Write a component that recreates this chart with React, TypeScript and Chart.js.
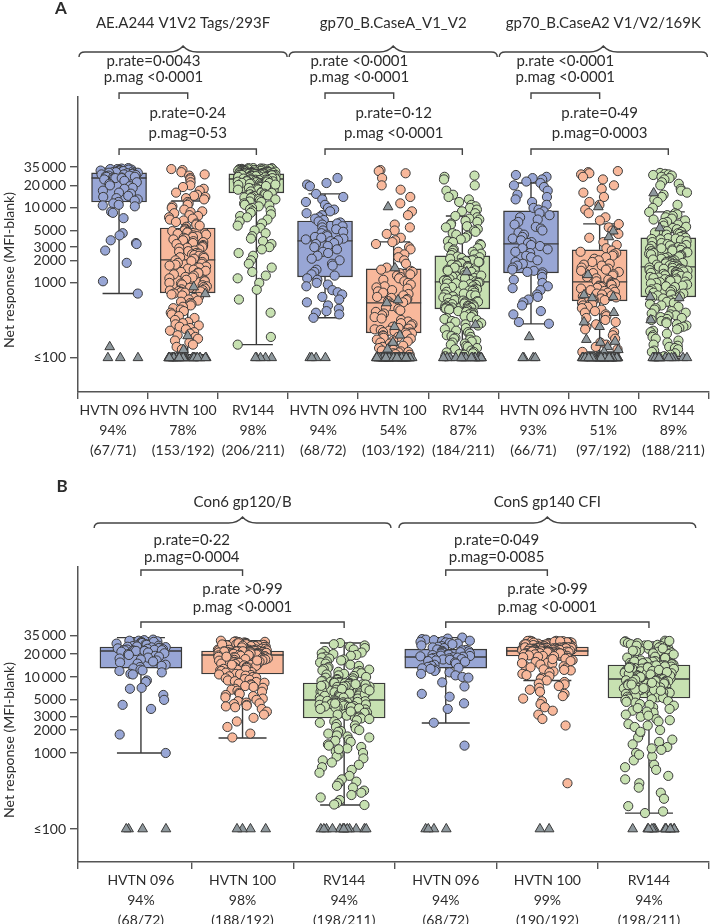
import React, { useEffect, useRef } from 'react';
import { Chart, registerables } from 'chart.js';

Chart.register(...registerables);

const FONT = 'Lato, "Open Sans", "DejaVu Sans", sans-serif';
const TXT = '#2c2c2c';
const DARK = '#3a3a3a';
const AXIS = '#555555';
const FILLS = ['#98a6d5', '#f8b89b', '#c7e1b1'];
const GREY = '#8e989d';

// ---------- y axis ticks ----------
const yTickVals = [100, 1000, 2000, 3000, 5000, 10000, 20000, 35000];
const yTickText = ['≤100', '1000', '2000', '3000', '5000', '10\u2009000', '20\u2009000', '35\u2009000'];

// ---------- Panel A ----------
const antigensA = ['AE.A244 V1V2 Tags/293F', 'gp70_B.CaseA_V1_V2', 'gp70_B.CaseA2 V1/V2/169K'];
const trialsA = ['HVTN 096', 'HVTN 100', 'RV144', 'HVTN 096', 'HVTN 100', 'RV144', 'HVTN 096', 'HVTN 100', 'RV144'];
const ratesA = ['94%', '78%', '98%', '94%', '54%', '87%', '93%', '51%', '89%'];
const countsA = ['(67/71)', '(153/192)', '(206/211)', '(68/72)', '(103/192)', '(184/211)', '(66/71)', '(97/192)', '(188/211)'];
const q1A = [12000, 735, 15850, 1200, 215, 450, 1360, 575, 650];
const medA = [25100, 2030, 24300, 3630, 541, 1030, 3310, 1030, 1635];
const q3A = [29300, 5400, 28400, 6700, 1540, 2290, 9120, 2760, 3980];
const loA = [720, 110, 150, 342, 110, 105, 284, 120, 105];
const hiA = [34000, 12400, 34000, 15400, 3520, 7800, 21500, 6120, 8850];
const pNearA = [['p.rate=0·0043', 'p.mag <0·0001'], ['p.rate <0·0001', 'p.mag <0·0001'], ['p.rate <0·0001', 'p.mag <0·0001']];
const pFarA = [['p.rate=0·24', 'p.mag=0·53'], ['p.rate=0·12', 'p.mag <0·0001'], ['p.rate=0·49', 'p.mag=0·0003']];

const A_AE_096 = [34000,33500,33000,33000,32500,32500,32000,32000,31500,31500,31000,31000,30500,30500,30000,30000,29500,29500,29000,29000,28500,28000,28000,27500,27000,27000,26500,26000,26000,25500,25500,25000,25000,25000,24000,23000,22000,21000,20000,19500,18500,18000,17000,16000,15500,14500,14000,13500,13000,12500,12000,11500,11000,10800,10500,8900,8600,7300,4600,4300,3700,3400,3300,2700,1850,1050,720];
const A_AE_096_neg = [140,100,100,100];
const A_AE_100 = [33000,32000,30000,28000,27000,25000,24000,22000,20000,19000,18000,17000,16000,15000,14500,14000,13500,13000,
12000,11500,11000,10500,10000,9500,9000,8800,8500,8000,7800,7500,7200,7000,6800,6500,6200,6000,5800,5600,
5300,5200,5000,4900,4800,4700,4600,4500,4400,4300,4200,4100,4000,3900,3800,3700,3600,3500,3400,3300,3200,3100,3000,2950,2900,2800,2700,2650,2600,2500,2450,2400,2350,2300,2250,2200,2150,2100,
2000,1950,1900,1850,1800,1750,1700,1650,1600,1550,1500,1450,1400,1380,1350,1300,1250,1200,1180,1150,1100,1080,1050,1000,980,950,930,900,880,860,840,820,800,790,780,770,760,750,740,
720,700,680,650,630,600,580,560,540,520,500,480,460,440,420,400,380,360,340,320,300,290,280,270,260,250,240,230,220,210,200,190,180,170,160,150,140,130];
const A_AE_100_neg = [880,713,196,128,100,100,100,100,100,100,100,100,100,100,100,100,100,100,100,100,100,100,100,100,100,100,100,100,100,100,100,100,100,100,100,100,100,100,100];
const A_AE_RV = [34000,34000,33800,33600,33500,33400,33200,33000,33000,32800,32600,32500,32400,32200,32000,32000,31800,31600,31500,31400,31200,31000,31000,30800,30600,30500,30400,30200,30000,30000,29900,29800,29700,29600,29500,29400,29300,29200,29100,29000,29000,28900,28900,28800,28800,28700,28700,28600,28600,28500,28500,28400,
28300,28200,28000,27900,27800,27600,27500,27400,27300,27100,27000,26900,26800,26600,26500,26400,26300,26100,26000,25900,25800,25700,25500,25400,25300,25200,25100,25000,24900,24800,24700,24600,24500,24400,24300,28100,27700,27200,26700,26200,25600,25000,24500,24400,24350,27450,26550,25950,25450,24650,24950,
24200,24000,23800,23500,23400,23200,23000,22700,22600,22400,22100,22000,21800,21600,21400,21100,21000,20800,20600,20300,20200,20000,19800,19500,19400,19200,19000,18700,18600,18400,18100,18000,17800,17600,17300,17200,17000,16800,16500,16400,16200,16000,15900,23600,22500,21500,20500,19600,18500,17500,16600,
15500,15200,15000,14700,14400,14000,13800,13500,13200,13000,12600,12200,12000,11500,11000,10800,10500,10000,9600,9200,9000,8600,8200,7800,7500,7000,6600,6200,5800,5400,5000,4600,4200,3900,3600,3300,3000,2800,2500,2300,2000,1800,1600,1400,1250,1150,1000,810,600,400,190,150];
const A_AE_RV_neg = [100,100,100,100,100];
const A_CA_096 = [25100,21500,20500,19500,15400,14000,13000,12000,11000,10000,9500,9000,8500,8000,7500,7200,6900,
6600,6400,6200,6000,5700,5500,5200,5000,4800,4600,4400,4200,4100,4000,3900,3800,3700,
3600,3400,3300,3100,3000,2800,2600,2500,2300,2100,2000,1800,1700,1500,1400,1300,1250,
1150,1100,1000,950,900,800,750,700,650,600,550,500,450,420,400,380,342];
const A_CA_096_neg = [100,100,100,100];
const A_CA_100 = [32000,31000,29000,25000,20000,17500,14000,11500,9000,8000,6000,5500,5000,4500,4000,3700,
3500,3300,3000,2800,2600,2400,2200,2000,1800,1600,
1500,1450,1400,1350,1300,1250,1200,1150,1100,1050,1000,950,900,870,840,800,770,740,710,680,650,630,610,590,570,550,
530,510,490,470,450,430,410,390,370,350,335,320,305,290,280,270,260,250,245,240,235,230,225,220,218,216,
212,205,200,195,190,185,180,175,170,165,160,155,150,145,140,135,130,128,125,122,120,118,115,112,110];
const A_CA_100_neg = [10300,1580,590,540,260,200,160,130,
100,100,100,100,100,100,100,100,100,100,100,100,100,100,100,100,100,100,100,100,100,100,100,100,100,100,100,100,100,100,100,100,100,
100,100,100,100,100,100,100,100,100,100,100,100,100,100,100,100,100,100,100,100,100,100,100,100,100,100,100,100,100,100,100,100,100,100,100,100,100,100,100,100];
const A_CA_RV = [27000,26000,24000,20000,17000,15000,14000,13000,12000,11000,10500,10000,9500,9000,8500,
7800,7500,7200,7000,6700,6500,6200,6000,5700,5500,5200,5000,4800,4600,4400,4200,4000,3800,3600,3500,3300,3200,3000,2900,2800,2700,2600,2500,2450,2400,2350,
2250,2200,2150,2100,2050,2000,1950,1900,1850,1800,1750,1700,1680,1650,1600,1570,1540,1500,1470,1440,1400,1380,1350,1320,1300,1270,1250,1220,1200,1180,1160,1140,1120,1100,1090,1080,1070,1060,1050,1040,1035,1900,1600,1450,1250,1150,
1020,1000,990,980,960,940,920,900,880,860,840,820,800,790,780,760,740,720,700,690,680,660,640,620,600,590,580,570,560,550,540,530,520,510,500,495,490,485,480,475,470,465,460,455,452,450,
440,430,420,410,400,390,380,370,360,350,340,330,320,310,300,290,280,270,260,250,240,230,220,210,200,195,190,185,180,175,170,165,160,155,150,145,140,135,130,125,120,118,115,112,110,105];
const A_CA_RV_neg = [1400,275,100,100,100,100,100,100,100,100,100,100,100,100,100,100,100,100,100,100,100,100,100,100,100,100,100];
const A_CA2_096 = [27500,26000,25000,24000,22500,21500,20000,19000,17000,15000,14000,13000,12000,11000,10000,9500,
9000,8500,8000,7500,7000,6500,6000,5600,5300,5000,4700,4400,4100,3900,3700,3500,3400,
3200,3100,2900,2800,2600,2500,2300,2200,2000,1900,1800,1700,1600,1500,1450,1400,1380,
1300,1200,1100,1000,900,850,800,700,650,600,550,500,420,380,300,285];
const A_CA2_096_neg = [190,100,100,100,100];
const A_CA2_100 = [31000,30000,29000,28000,26000,24000,20000,18000,16000,14000,12000,11000,9500,8500,7500,6800,6100,5500,5000,4500,4000,3500,3200,2900,
2700,2600,2500,2400,2300,2200,2100,2000,1900,1800,1750,1700,1600,1550,1500,1450,1400,1350,1300,1250,1200,1150,1100,1050,
1020,1000,980,960,940,920,900,880,860,840,820,800,780,760,740,720,700,680,660,640,620,600,590,580,
560,540,520,500,480,460,440,420,400,380,360,340,320,300,280,260,240,220,200,180,160,150,140,130,120];
const A_CA2_100_neg = [10300,4900,4100,1280,690,650,630,400,300,260,175,165,160,140,128,120,
100,100,100,100,100,100,100,100,100,100,100,100,100,100,100,100,100,100,100,100,100,100,100,100,100,100,100,100,100,100,
100,100,100,100,100,100,100,100,100,100,100,100,100,100,100,100,100,100,100,100,100,100,100,100,100,100,100,100,100,100,100,100,100];
const A_CA2_RV = [29300,28500,28000,27500,27000,26000,25000,24000,22000,21000,20000,18000,17000,16000,15000,14000,13000,12000,11000,10000,
8800,8500,8200,8000,7800,7500,7200,7000,6800,6500,6300,6000,5800,5600,5400,5200,5000,4900,4800,4700,4600,4500,4400,4300,4200,4100,4000,
3950,3900,3850,3800,3700,3600,3500,3400,3300,3200,3150,3100,3000,2950,2900,2850,2800,2750,2700,2650,2600,2550,2500,2450,2400,2350,2300,2250,2200,2150,2100,2050,2000,1980,1950,1920,1900,1870,1850,1820,1800,1770,1750,1720,1700,1680,1650,
1620,1600,1580,1560,1540,1520,1500,1480,1460,1440,1420,1400,1380,1360,1340,1320,1300,1280,1260,1240,1220,1200,1180,1160,1140,1120,1100,1080,1060,1040,1020,1000,980,950,920,900,880,850,820,800,780,760,740,720,700,680,660,
640,620,600,580,560,540,520,500,480,460,440,420,400,390,380,370,360,350,340,330,320,310,300,290,280,270,260,250,240,230,220,210,200,190,180,170,160,150,145,140,135,130,125,120,115,110,105];
const A_CA2_RV_neg = [15800,5400,650,630,320,100,100,100,100,100,100,100,100,100,100,100,100,100,100,100,100,100,100];

// ---------- Panel B ----------
const antigensB = ['Con6 gp120/B', 'ConS gp140 CFI'];
const trialsB = ['HVTN 096', 'HVTN 100', 'RV144', 'HVTN 096', 'HVTN 100', 'RV144'];
const ratesB = ['94%', '98%', '94%', '94%', '99%', '94%'];
const countsB = ['(68/72)', '(188/192)', '(198/211)', '(68/72)', '(190/192)', '(198/211)'];
const q1B = [13100, 10950, 2890, 13100, 18900, 5300];
const medB = [22000, 19500, 4980, 18300, 22000, 9420];
const q3B = [24800, 22000, 8340, 23300, 24800, 14400];
const loB = [1000, 1575, 207, 2480, 9000, 162];
const hiB = [33000, 30000, 28000, 33000, 30000, 29000];
const pNearB = [['p.rate=0·22', 'p.mag=0·0004'], ['p.rate=0·049', 'p.mag=0·0085']];
const pFarB = [['p.rate >0·99', 'p.mag <0·0001'], ['p.rate >0·99', 'p.mag <0·0001']];

const B_C6_096 = [31000,30500,30000,30000,29500,29000,28800,28500,28000,27500,27000,26500,26000,25800,25500,25200,25000,
24700,24500,24300,24000,23800,23500,23200,23000,22800,22600,22500,22400,22300,22200,22100,22050,22000,
21500,21000,20500,20000,19500,19000,18500,18000,17500,17000,16500,16000,15500,15000,14500,14000,13500,
13000,12500,12000,11500,11000,10800,9000,8600,7200,7000,5800,5000,4300,3800,1750,1000,12200];
const B_C6_096_neg = [100,100,100,100];
const B_C6_100 = [30000,29500,29000,29000,28500,28000,28000,27500,27000,27000,26500,26000,26000,25500,25500,25000,25000,24800,24600,24400,24200,24000,24000,23800,23600,23400,23200,23000,23000,22900,22800,22700,22600,22500,22400,22300,22200,22100,22050,28800,27800,26800,25800,24500,23500,22800,22400,
21950,21900,21850,21800,21750,21700,21650,21600,21550,21500,21400,21300,21200,21100,21000,20900,20800,20700,20600,20500,20400,20300,20200,20100,20000,19950,19900,19850,19800,19750,19700,19650,19600,19550,19500,21000,20500,20000,21800,21200,20800,20200,19900,19700,21600,20400,19600,
19400,19200,19000,18800,18600,18400,18200,18000,17800,17600,17400,17200,17000,16800,16600,16400,16200,16000,15800,15600,15400,15200,15000,14800,14600,14400,14200,14000,13800,13600,13400,13200,13000,12800,12600,12400,12200,12000,11800,11600,11400,11200,11000,18500,16500,14500,12500,
10900,10800,10600,10400,10200,10000,9800,9600,9400,9200,9000,8800,8600,8400,8200,8000,7800,7600,7400,7200,7000,6800,6600,6400,6200,6000,5800,5600,5400,5200,5000,4800,4600,4500,4400,4300,4200,4100,4000,3800,3500,3200,2900,2600,2200,1800,1600];
const B_C6_100_neg = [100,100,100,100];
const B_C6_RV = [28000,27000,26000,25000,24000,23000,22000,21000,20500,20000,19500,19000,18500,18000,17500,17000,16500,16000,15500,15000,14500,14000,13500,13000,12800,12500,12200,12000,11700,11500,11200,11000,10800,10500,10300,10000,9800,9600,9400,9200,9000,8900,8800,8700,8600,8500,8450,8400,8380,8350,
8300,8200,8100,8000,7900,7800,7700,7600,7500,7400,7300,7200,7100,7000,6900,6800,6700,6600,6500,6400,6300,6200,6100,6000,5900,5800,5700,5600,5500,5400,5300,5200,5100,5050,5000,7950,7450,6950,6450,5950,5450,5150,8050,7650,7050,6650,6050,5650,5350,
4950,4900,4850,4800,4750,4700,4650,4600,4550,4500,4450,4400,4350,4300,4250,4200,4150,4100,4050,4000,3950,3900,3850,3800,3750,3700,3650,3600,3550,3500,3450,3400,3350,3300,3250,3200,3150,3100,3050,3000,2950,2900,4480,4020,3880,3520,3380,3020,2920,
2850,2800,2700,2600,2500,2400,2300,2200,2100,2000,1950,1900,1800,1700,1650,1600,1500,1450,1400,1300,1250,1200,1150,1100,1050,1000,950,900,850,800,750,700,650,600,550,500,450,420,400,370,350,320,300,280,260,240,220,210,207,1120];
const B_C6_RV_neg = [100,100,100,100,100,100,100,100,100,100,100,100,100];
const B_CS_096 = [33000,32000,31500,31000,30500,30000,29500,29000,28500,28000,27500,27000,26000,25500,25000,24500,24000,
23000,22700,22400,22100,21800,21500,21200,20900,20600,20300,20000,19700,19400,19100,18900,18700,18500,
18200,18000,17800,17600,17400,17200,17000,16800,16500,16200,15900,15500,15000,14500,14000,13600,13200,
13000,12500,12000,11500,11000,10500,10000,9800,8500,7500,6000,5500,4500,3800,2500,1250,12800];
const B_CS_096_neg = [100,100,100,100];
const B_CS_100 = [30000,29800,29600,29400,29200,29000,28800,28600,28400,28200,28000,27800,27600,27400,27200,27000,26800,26600,26400,26200,26000,25900,25800,25700,25600,25500,25400,25300,25200,25100,25000,24900,29900,29100,28300,27500,26700,25950,25650,25350,25050,24950,27100,26300,28700,29500,26900,25450,
24700,24600,24500,24400,24300,24200,24100,24000,23900,23800,23700,23600,23500,23400,23300,23200,23100,23000,22900,22800,22700,22600,22500,22400,22300,22200,22100,22050,24650,24350,24050,23750,23450,23150,22850,22550,22250,24550,24150,23850,23550,23250,22950,22650,22350,22150,22020,
21900,21800,21700,21600,21500,21400,21300,21200,21100,21000,20900,20800,20700,20600,20500,20400,20300,20200,20100,20000,19900,19800,19700,19600,19500,19400,19300,19200,19100,19000,18950,21750,21450,21150,20850,20550,20250,19950,19650,19350,19050,21650,21050,20450,19850,19250,18920,
18800,18500,18200,18000,17700,17400,17000,16600,16200,15800,15400,15000,14600,14200,13800,13400,13000,12600,12200,11800,11400,11000,10600,10200,9800,9400,9000,8600,8200,8000,7600,7200,6800,6400,6000,5600,5200,4800,4400,4000,3600,3200,2800,2300,400,17200,15200,12400];
const B_CS_100_neg = [100,100];
const B_CS_RV = [30000,29500,29000,28500,28000,27500,27000,26500,26000,25500,25000,24500,24000,23500,23000,22500,22000,21500,21000,20500,20000,19500,19000,18500,18000,17700,17400,17100,16800,16500,16200,15900,15600,15300,15000,14800,14600,14500,29800,27800,25800,23800,21800,19800,17800,16000,15200,14700,26200,22200,
14300,14100,13900,13700,13500,13300,13100,12900,12700,12500,12300,12100,11900,11700,11500,11300,11100,10900,10700,10500,10300,10100,9900,9700,9500,14200,13800,13400,13000,12600,12200,11800,11400,11000,10600,10200,9800,9600,9450,13600,12800,12000,11200,10400,10000,13200,12400,11600,10800,
9350,9200,9050,8900,8750,8600,8450,8300,8150,8000,7850,7700,7550,7400,7250,7100,6950,6800,6650,6500,6350,6200,6050,5900,5750,5600,5450,5350,9100,8700,8200,7800,7300,6900,6400,6000,5500,8850,8550,7950,7650,7150,6750,6250,5850,5400,5320,8400,6600,
5200,5000,4800,4600,4400,4200,4000,3800,3600,3400,3200,3000,2800,2600,2400,2200,2000,1800,1600,1400,1200,1100,1000,900,800,700,600,500,400,300,250,200,170,162,5100,4700,4300,3900,3500,3100,2700,2300,1900,1500,1300,1150,950,650,450,350];
const B_CS_RV_neg = [100,100,100,100,100,100,100,100,100,100,100,100,100];

type Brk = { dy: number; t1: number; t2: number };
type PanelCfg = {
  letter: string; letterX: number; letterY: number;
  antigens: string[]; titleY: number; braceY: number; braceInset: number; regionAxis: string;
  labels: string[][]; categoryAxis: boolean;
  q1: number[]; med: number[]; q3: number[]; lo: number[]; hi: number[];
  resp: number[][]; neg: number[][];
  xMin: number; xMax: number; yMin: number; yMax: number;
  padTop: number; xHeight: number; boxW: number; capW: number; jw: number;
  near: Brk; far: Brk; pNear: string[][]; pFar: string[][];
};

const cfgA: PanelCfg = {
  letter: 'A', letterX: 61, letterY: 9,
  antigens: antigensA, titleY: 23, braceY: 52, braceInset: 1, regionAxis: 'x',
  labels: trialsA.map((t, i) => [t, ratesA[i], countsA[i]]), categoryAxis: true,
  q1: q1A, med: medA, q3: q3A, lo: loA, hi: hiA,
  resp: [A_AE_096, A_AE_100, A_AE_RV, A_CA_096, A_CA_100, A_CA_RV, A_CA2_096, A_CA2_100, A_CA2_RV],
  neg: [A_AE_096_neg, A_AE_100_neg, A_AE_RV_neg, A_CA_096_neg, A_CA_100_neg, A_CA_RV_neg, A_CA2_096_neg, A_CA2_100_neg, A_CA2_RV_neg],
  xMin: -0.598, xMax: 8.584, yMin: 35, yMax: 302000,
  padTop: 97, xHeight: 70, boxW: 55, capW: 33, jw: 0.28,
  near: { dy: -4, t1: -32, t2: -16 }, far: { dy: 52, t1: -36, t2: -16 },
  pNear: pNearA, pFar: pFarA,
};

const cfgB: PanelCfg = {
  letter: 'B', letterX: 62, letterY: 25,
  antigens: antigensB, titleY: 40, braceY: 61, braceInset: 4, regionAxis: 'xs',
  labels: trialsB.map((t, i) => [t, ratesB[i], countsB[i]]), categoryAxis: false,
  q1: q1B, med: medB, q3: q3B, lo: loB, hi: hiB,
  resp: [B_C6_096, B_C6_100, B_C6_RV, B_CS_096, B_CS_100, B_CS_RV],
  neg: [B_C6_096_neg, B_C6_100_neg, B_C6_RV_neg, B_CS_096_neg, B_CS_100_neg, B_CS_RV_neg],
  xMin: -0.6195, xMax: 5.585, yMin: 36.8, yMax: 280000,
  padTop: 105, xHeight: 62, boxW: 82, capW: 48, jw: 0.25,
  near: { dy: 3, t1: -30, t2: -13 }, far: { dy: 55, t1: -33, t2: -15 },
  pNear: pNearB, pFar: pFarB,
};

// deterministic horizontal scatter (position only, not data)
const jit = (i: number, j: number, w: number) => {
  const h = Math.sin((j + 1) * 12.9898 + (i + 1) * 78.233) * 43758.5453;
  return ((h - Math.floor(h)) - 0.5) * 2 * w;
};

function drawBrace(ctx: CanvasRenderingContext2D, l: number, r: number, m: number, y: number) {
  ctx.beginPath();
  ctx.moveTo(l, y + 5);
  ctx.quadraticCurveTo(l, y, l + 6, y);
  ctx.lineTo(m - 14, y);
  ctx.quadraticCurveTo(m - 5, y, m, y - 6);
  ctx.quadraticCurveTo(m + 5, y, m + 14, y);
  ctx.lineTo(r - 6, y);
  ctx.quadraticCurveTo(r, y, r, y + 5);
  ctx.stroke();
}

function overlay(cfg: PanelCfg) {
  return {
    id: 'overlay' + cfg.letter,
    afterDatasetDraw(chart: any, args: any) {
      if (args.index !== 0) return;
      const xs = chart.scales.xs, y = chart.scales.y, ctx = chart.ctx as CanvasRenderingContext2D;
      ctx.save();
      ctx.strokeStyle = DARK;
      ctx.lineWidth = 1.4;
      cfg.q1.forEach((q1, i) => {
        const x = xs.getPixelForValue(i);
        const yq1 = y.getPixelForValue(q1), yq3 = y.getPixelForValue(cfg.q3[i]);
        const ym = y.getPixelForValue(cfg.med[i]);
        const yh = y.getPixelForValue(cfg.hi[i]), yl = y.getPixelForValue(cfg.lo[i]);
        const hw = cfg.boxW / 2, cw = cfg.capW / 2;
        ctx.beginPath();
        ctx.moveTo(x, yq3); ctx.lineTo(x, yh);
        ctx.moveTo(x - cw, yh); ctx.lineTo(x + cw, yh);
        ctx.moveTo(x, yq1); ctx.lineTo(x, yl);
        ctx.moveTo(x - cw, yl); ctx.lineTo(x + cw, yl);
        ctx.moveTo(x - hw, ym); ctx.lineTo(x + hw, ym);
        ctx.stroke();
      });
      ctx.restore();
    },
    afterDraw(chart: any) {
      const ctx = chart.ctx as CanvasRenderingContext2D;
      const ca = chart.chartArea;
      const xs = chart.scales.xs;
      const xr = chart.scales[cfg.regionAxis];
      ctx.save();
      ctx.fillStyle = TXT;
      ctx.strokeStyle = '#444';
      ctx.lineWidth = 1.4;
      ctx.textBaseline = 'middle';
      ctx.textAlign = 'center';
      ctx.font = `bold 17px ${FONT}`;
      ctx.fillText(cfg.letter, cfg.letterX, cfg.letterY);
      ctx.font = `15px ${FONT}`;
      cfg.antigens.forEach((name, g) => {
        const l = xr.getPixelForValue(3 * g - 0.5) + cfg.braceInset;
        const r = xr.getPixelForValue(3 * g + 2.5) - cfg.braceInset;
        const m = (l + r) / 2;
        ctx.fillText(name, m, cfg.titleY);
        drawBrace(ctx, l, r, m, cfg.braceY);
        const bx0 = xs.getPixelForValue(3 * g);
        const pairs: [number, Brk, string[]][] = [
          [xs.getPixelForValue(3 * g + 1), cfg.near, cfg.pNear[g]],
          [xs.getPixelForValue(3 * g + 2), cfg.far, cfg.pFar[g]],
        ];
        pairs.forEach(([bx1, b, txt]) => {
          const yt = ca.top + b.dy;
          ctx.beginPath();
          ctx.moveTo(bx0, yt + 6); ctx.lineTo(bx0, yt); ctx.lineTo(bx1, yt); ctx.lineTo(bx1, yt + 6);
          ctx.stroke();
          const cx = (bx0 + bx1) / 2;
          ctx.fillText(txt[0], cx, yt + b.t1);
          ctx.fillText(txt[1], cx, yt + b.t2);
        });
      });
      ctx.font = `14px ${FONT}`;
      ctx.translate(9, ca.bottom - 122);
      ctx.rotate(-Math.PI / 2);
      ctx.fillText('Net response (MFI-blank)', 0, 0);
      ctx.restore();
    },
  };
}

function buildConfig(cfg: PanelCfg): any {
  const boxes = {
    type: 'bar', xAxisID: 'xs', yAxisID: 'y', order: 3,
    data: cfg.q1.map((q, i) => ({ x: i, y: [q, cfg.q3[i]] })),
    backgroundColor: cfg.q1.map((_, i) => FILLS[i % 3]),
    borderColor: DARK, borderWidth: 1.4, borderSkipped: false, barThickness: cfg.boxW,
  };
  const circles = cfg.resp.map((vals, i) => ({
    type: 'scatter', xAxisID: 'xs', yAxisID: 'y', order: 2,
    data: vals.map((v, j) => ({ x: i + jit(i, j, cfg.jw), y: v })),
    pointStyle: 'circle', pointRadius: 4.6,
    pointBackgroundColor: FILLS[i % 3], pointBorderColor: DARK, pointBorderWidth: 1,
  }));
  const tris = cfg.neg.map((vals, i) => ({
    type: 'scatter', xAxisID: 'xs', yAxisID: 'y', order: 1,
    data: vals.map((v, j) => ({ x: i + jit(i + 11, j, cfg.jw), y: v })),
    pointStyle: 'triangle', pointRadius: 5.6,
    pointBackgroundColor: GREY, pointBorderColor: DARK, pointBorderWidth: 1,
  }));
  const tickFont = { family: FONT, size: 14, lineHeight: 1.4 };
  const n = cfg.labels.length;
  const xAxis: any = cfg.categoryAxis
    ? {
        type: 'category', position: 'bottom', offset: true,
        grid: { offset: true, drawOnChartArea: false, drawTicks: true, tickLength: 7, color: AXIS, lineWidth: 1.4 },
        border: { display: true, color: AXIS, width: 1.5 },
        ticks: { font: tickFont, color: TXT, padding: 2, maxRotation: 0, minRotation: 0, autoSkip: false },
        afterFit: (s: any) => { s.height = cfg.xHeight; },
      }
    : {
        type: 'linear', position: 'bottom', offset: false, min: cfg.xMin, max: cfg.xMax,
        afterBuildTicks: (s: any) => {
          const vals = [cfg.xMin];
          for (let i = 0; i < n; i++) { vals.push(i); if (i < n - 1) vals.push(i + 0.5); }
          vals.push(cfg.xMax);
          s.ticks = vals.map((v) => ({ value: v }));
        },
        grid: {
          offset: false, drawOnChartArea: false, drawTicks: true, tickLength: 7, lineWidth: 1.4,
          color: (c: any) => (c.tick && Number.isInteger(c.tick.value) ? 'rgba(0,0,0,0)' : AXIS),
        },
        border: { display: true, color: AXIS, width: 1.5 },
        ticks: {
          font: tickFont, color: TXT, padding: 2, maxRotation: 0, minRotation: 0, autoSkip: false,
          callback: (v: any) => (Number.isInteger(v) ? cfg.labels[v] : ''),
        },
        afterFit: (s: any) => { s.height = cfg.xHeight; },
      };
  return {
    type: 'bar',
    data: { labels: cfg.labels, datasets: [boxes, ...tris, ...circles] },
    options: {
      responsive: false, animation: false, events: [],
      layout: { padding: { top: cfg.padTop, left: 0, right: 0, bottom: 0 } },
      plugins: { legend: { display: false }, tooltip: { enabled: false } },
      scales: {
        x: xAxis,
        xs: { type: 'linear', display: false, offset: false, min: cfg.xMin, max: cfg.xMax, grid: { offset: false } },
        y: {
          type: 'logarithmic', position: 'left', min: cfg.yMin, max: cfg.yMax, beginAtZero: false,
          afterBuildTicks: (s: any) => { s.ticks = yTickVals.map((v) => ({ value: v })); },
          afterFit: (s: any) => { s.width = 78; },
          ticks: {
            font: { family: FONT, size: 14 }, color: TXT, padding: 4, autoSkip: false,
            callback: (v: any) => { const k = yTickVals.indexOf(Number(v)); return k >= 0 ? yTickText[k] : ''; },
          },
          grid: { drawOnChartArea: false, drawTicks: true, tickLength: 8, color: AXIS, lineWidth: 1.4 },
          border: { display: true, color: AXIS, width: 1.5 },
        },
      },
    },
    plugins: [overlay(cfg)],
  };
}

function Panel({ cfg, top }: { cfg: PanelCfg; top: number }) {
  const ref = useRef<HTMLCanvasElement>(null);
  useEffect(() => {
    const chart = new Chart(ref.current as HTMLCanvasElement, buildConfig(cfg));
    return () => chart.destroy();
  }, [cfg]);
  return (
    <canvas
      ref={ref}
      width={715}
      height={462}
      style={{ position: 'absolute', left: 0, top, width: 715, height: 462, display: 'block' }}
    />
  );
}

export default function App() {
  return (
    <div style={{ position: 'absolute', left: 0, top: 0, width: 715, height: 924, background: '#ffffff', overflow: 'hidden' }}>
      <Panel cfg={cfgA} top={0} />
      <Panel cfg={cfgB} top={462} />
    </div>
  );
}
